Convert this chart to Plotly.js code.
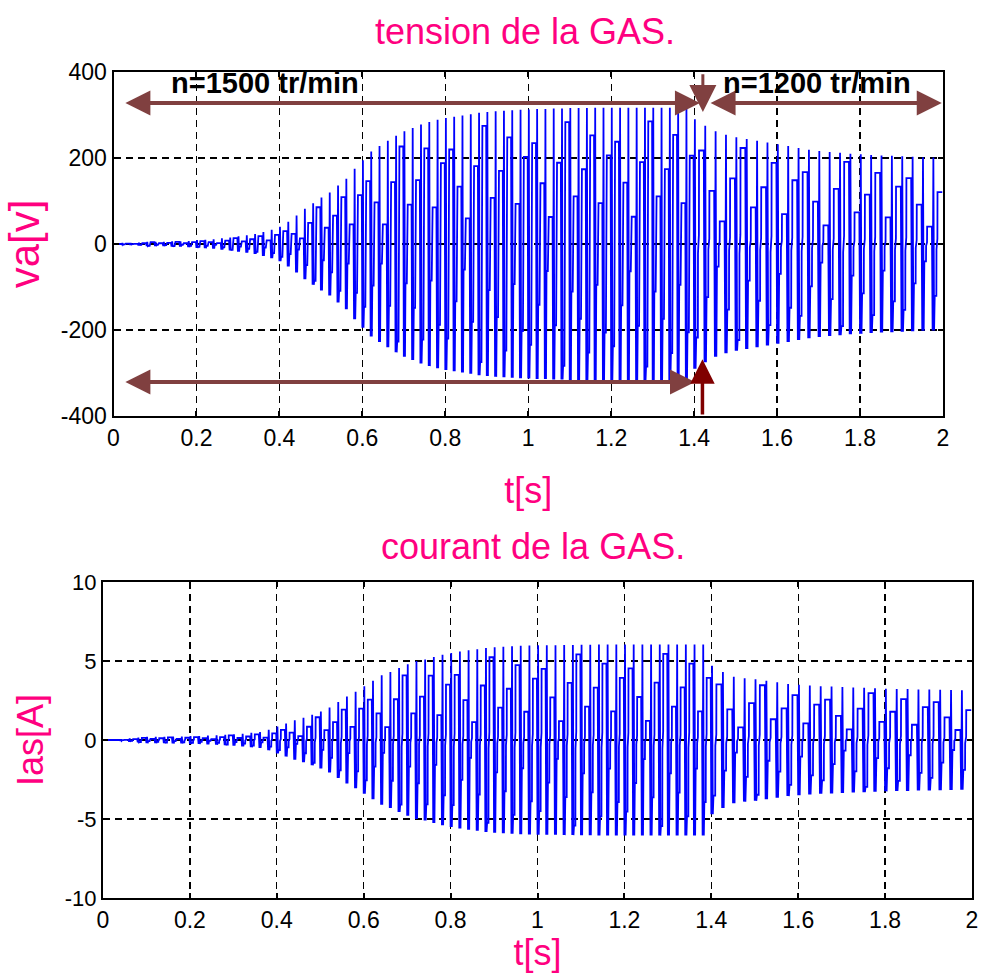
<!DOCTYPE html>
<html>
<head>
<meta charset="utf-8">
<script src="https://cdn.plot.ly/plotly-3.0.1.min.js"></script>
<style>html,body{margin:0;padding:0;background:#fff;}#chart{width:982px;height:973px;}</style>
</head>
<body>
<div id="chart"></div>
<script>
// ---- data ----
// peak amplitude of each 50 Hz cycle of va (V), cycles starting at t = 0, 0.02, ... 1.38 s
const vaAmp50 = [0,2,2,3,5,5,5,6,6,7,9,10,11,13,15,18,20,23,28,33,
  40,52,66,82,95,108,120,136,152,175,195,215,228,240,252,262,270,278,284,289,
  293,296,299,302,305,307,309,310,311,312,313,314,314,315,315,316,
  316,316,317,317,317,317,317,317,317,317,317,317,317,316];
// peak amplitude of each 40 Hz cycle of va (V), cycles starting at t = 1.4, 1.425, ... 1.975 s
const vaAmp40 = [290,275,262,254,248,244,240,236,232,228,223,219,216,214,212,210,209,207,206,205,204,203,202,201];
// peak amplitude of each 50 Hz cycle of Ias (A)
const iaAmp50 = [0,0.02,0.05,0.1,0.15,0.2,0.2,0.2,0.22,0.22,0.25,0.25,0.28,0.3,0.33,0.36,0.4,0.45,0.5,0.65,
  0.85,1.05,1.25,1.4,1.6,1.8,2.05,2.4,2.75,3.05,3.4,3.75,4.1,4.3,4.55,4.8,5.0,5.1,5.25,5.4,
  5.5,5.6,5.68,5.75,5.82,5.87,5.9,5.93,5.96,5.98,6.0,6.0,6.0,6.02,6.02,6.03,
  6.03,6.05,6.05,6.05,6.05,6.05,6.05,6.05,6.05,6.05,6.05,6.05,6.05,6.05];
// peak amplitude of each 40 Hz cycle of Ias (A)
const iaAmp40 = [4.7,4.3,4.0,3.9,3.85,3.75,3.65,3.55,3.5,3.45,3.4,3.38,3.35,3.32,3.3,3.28,3.25,3.23,3.22,3.2,3.2,3.18,3.17,3.15];
// level of the thin inner stroke, as a share of the cycle peak (beat pattern seen in the picture)
const innerLevel = [0.75,0.45,0.2,0.6,0.9,0.35,0.55,0.8,0.3,0.65];

const period50 = 0.02, period40 = 0.025, tSwitch = 1.4;

const xTickVals = [0,0.2,0.4,0.6,0.8,1,1.2,1.4,1.6,1.8,2];
const xTickText = ['0','0.2','0.4','0.6','0.8','1','1.2','1.4','1.6','1.8','2'];
const vaTickVals = [-400,-200,0,200,400];
const vaTickText = ['-400','-200','0','200','400'];
const iaTickVals = [-10,-5,0,5,10];
const iaTickText = ['-10','-5','0','5','10'];

// ---- build the drawn waveform (one bold stroke + one thin step line per cycle) ----
// [fraction of period, share of peak, share of inner level]
const shape = [[0,-1,0],[0.07,1,0],[0.14,-1,0],[0.20,0,-1],[0.36,0,-1],[0.37,0,-0.1],[0.46,0,0.1],[0.47,0,1],[0.93,0,1]];
function buildWave(amp50, amp40) {
  const cycles = [];
  amp50.forEach((a,i) => cycles.push({t0: i*period50, T: period50, a: a}));
  amp40.forEach((a,j) => cycles.push({t0: tSwitch + j*period40, T: period40, a: a}));
  const x = [], y = [];
  cycles.forEach((c,k) => {
    const h = c.a * innerLevel[k % innerLevel.length];
    shape.forEach(([f, pa, ph]) => { x.push(c.t0 + f*c.T); y.push(pa*c.a + ph*h); });
  });
  return {x, y};
}
const va = buildWave(vaAmp50, vaAmp40);
const ia = buildWave(iaAmp50, iaAmp40);

const PINK = '#FF0080', BROWN = '#804040', DARKRED = '#800000';
const FONT = 'Liberation Sans, Arial, sans-serif';

const traces = [
  {x: va.x, y: va.y, xaxis: 'x', yaxis: 'y', type: 'scatter', mode: 'lines',
   line: {color: '#0000FF', width: 1.8}, hoverinfo: 'skip', showlegend: false},
  {x: ia.x, y: ia.y, xaxis: 'x2', yaxis: 'y2', type: 'scatter', mode: 'lines',
   line: {color: '#0000FF', width: 1.8}, hoverinfo: 'skip', showlegend: false}
];

function axisBase() {
  return {
    showline: true, linecolor: '#000', linewidth: 2, mirror: 'ticks',
    ticks: 'inside', ticklen: 5, tickwidth: 2, tickcolor: '#000',
    showgrid: true, gridcolor: '#000', gridwidth: 1.3, griddash: '7px,5px',
    zeroline: false, automargin: false, fixedrange: true,
    tickfont: {family: FONT, size: 23, color: '#000'}
  };
}

const layout = {
  width: 982, height: 973,
  margin: {l: 0, r: 0, t: 0, b: 0},
  paper_bgcolor: '#fff', plot_bgcolor: '#fff',
  showlegend: false,
  title: {text: 'tension de la GAS.', x: 525/982, xanchor: 'center', y: 1 - 31/973, yanchor: 'middle',
          font: {family: FONT, size: 36, color: PINK}},
  xaxis: Object.assign(axisBase(), {domain: [113.5/982, 943/982], range: [0, 2], anchor: 'y',
          tickvals: xTickVals, ticktext: xTickText,
          title: {text: 't[s]', font: {family: FONT, size: 36, color: PINK}, standoff: 28}}),
  yaxis: Object.assign(axisBase(), {domain: [(973-416)/973, (973-72)/973], range: [-400, 400], anchor: 'x',
          tickvals: vaTickVals, ticktext: vaTickText,
          title: {text: 'va[v]', font: {family: FONT, size: 42, color: PINK}, standoff: 8}}),
  xaxis2: Object.assign(axisBase(), {domain: [103/982, 972/982], range: [0, 2], anchor: 'y2',
          tickvals: xTickVals, ticktext: xTickText,
          title: {text: 't[s]', font: {family: FONT, size: 36, color: PINK}, standoff: 12}}),
  yaxis2: Object.assign(axisBase(), {domain: [(973-898)/973, (973-582)/973], range: [-10, 10], anchor: 'x2',
          tickvals: iaTickVals, ticktext: iaTickText, tickfont: {family: FONT, size: 22, color: '#000'},
          title: {text: 'Ias[A]', font: {family: FONT, size: 36, color: PINK}, standoff: 10}}),
  annotations: [
    {text: 'courant de la GAS.', xref: 'paper', yref: 'paper', x: 533/982, y: (973-546)/973,
     xanchor: 'center', yanchor: 'middle', showarrow: false, font: {family: FONT, size: 36, color: PINK}},
    // 1500 tr/min span
    {text: '', xref: 'x', yref: 'y', axref: 'x', ayref: 'y', x: 1.414, y: 328, ax: 0.025, ay: 328,
     showarrow: true, arrowside: 'end+start', arrowhead: 2, startarrowhead: 2,
     arrowsize: 1.25, startarrowsize: 1.25, arrowwidth: 4, arrowcolor: BROWN},
    // 1200 tr/min span
    {text: '', xref: 'x', yref: 'y', axref: 'x', ayref: 'y', x: 1.997, y: 328, ax: 1.436, ay: 328,
     showarrow: true, arrowside: 'end+start', arrowhead: 2, startarrowhead: 2,
     arrowsize: 1.25, startarrowsize: 1.25, arrowwidth: 4, arrowcolor: BROWN},
    // small down arrow at the speed change
    {text: '', xref: 'x', yref: 'y', axref: 'x', ayref: 'y', x: 1.421, y: 307, ax: 1.421, ay: 398,
     showarrow: true, arrowhead: 2, arrowsize: 1.8, arrowwidth: 3, arrowcolor: BROWN},
    // lower span arrow
    {text: '', xref: 'x', yref: 'y', axref: 'x', ayref: 'y', x: 1.402, y: -321, ax: 0.025, ay: -321,
     showarrow: true, arrowside: 'end+start', arrowhead: 2, startarrowhead: 2,
     arrowsize: 1.25, startarrowsize: 1.25, arrowwidth: 4, arrowcolor: BROWN},
    // dark red up arrow
    {text: '', xref: 'x', yref: 'y', axref: 'x', ayref: 'y', x: 1.420, y: -268, ax: 1.420, ay: -400,
     showarrow: true, arrowhead: 2, arrowsize: 1.4, arrowwidth: 3.5, arrowcolor: DARKRED},
    {text: '<b>n=1500 tr/min</b>', xref: 'x', yref: 'y', x: 0.365, y: 374, showarrow: false,
     xanchor: 'center', yanchor: 'middle', font: {family: FONT, size: 29, color: '#000'}},
    {text: '<b>n=1200 tr/min</b>', xref: 'x', yref: 'y', x: 1.696, y: 374, showarrow: false,
     xanchor: 'center', yanchor: 'middle', font: {family: FONT, size: 29, color: '#000'}}
  ]
};

Plotly.newPlot('chart', traces, layout, {staticPlot: true, displayModeBar: false});
</script>
</body>
</html>
